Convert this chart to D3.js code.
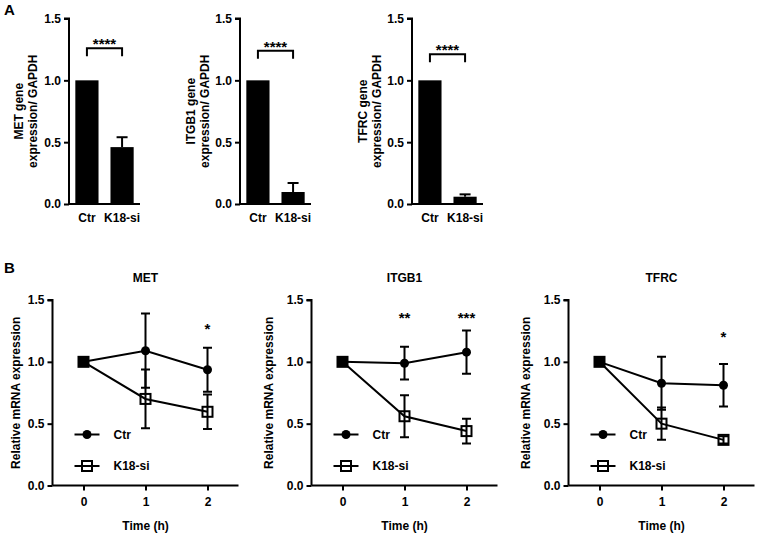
<!DOCTYPE html>
<html><head><meta charset="utf-8">
<script src="https://cdn.jsdelivr.net/npm/d3@7/dist/d3.min.js"></script>
<style>
body{margin:0;background:#fff;}
svg text{font-family:"Liberation Sans",Arial,sans-serif;font-weight:bold;fill:#000;}
</style></head><body>
<svg id="c" width="758" height="536"></svg>
<script>
// ---------- data ----------
const genes = ["MET", "ITGB1", "TFRC"];
const groups = ["Ctr", "K18-si"];
const barCtr = [1.0, 1.0, 1.0];
const barK18 = [0.46, 0.097, 0.059];
const barK18Err = [0.08, 0.073, 0.019];
const barSig = ["****", "****", "****"];
const barSigLevel = [1.26, 1.24, 1.21];
const yTicks = [0, 0.5, 1.0, 1.5];

const times = [0, 1, 2];
const ctrMean = [[1.0, 1.09, 0.936], [1.0, 0.989, 1.078], [1.0, 0.827, 0.811]];
const ctrSD   = [[0, 0.30, 0.178],   [0, 0.132, 0.175],  [0, 0.215, 0.172]];
const k18Mean = [[1.0, 0.70, 0.596], [1.0, 0.56, 0.44],  [1.0, 0.50, 0.369]];
const k18SD   = [[0, 0.237, 0.14],   [0, 0.17, 0.10],    [0, 0.13, 0.03]];
const timeSig = [["", "", "*"], ["", "**", "***"], ["", "", "*"]];
const timeSigLevel = [1.28, 1.37, 1.22];

// ---------- layout ----------
const svg = d3.select("#c");
const fmt = d3.format(".1f");
const SW = 2;
const FS = 12;

svg.append("text").attr("x", 4).attr("y", 15).attr("font-size", 15).text("A");
svg.append("text").attr("x", 4).attr("y", 273).attr("font-size", 15).text("B");

// Panel A
const aX0 = [69, 240, 412], aW = 71, aTop = 18.5, aBot = 204;
const aLabOff = [46, 45, 45];
genes.forEach((g, i) => {
  const gEl = svg.append("g");
  const y = d3.scaleLinear().domain([0, 1.5]).range([aBot, aTop]);
  const x = d3.scaleBand().domain(groups).range([aX0[i], aX0[i] + aW]).paddingInner(0.34).paddingOuter(0.18);
  const vals = [barCtr[i], barK18[i]];
  gEl.selectAll("rect.bar").data(groups).join("rect")
    .attr("x", d => x(d)).attr("width", x.bandwidth())
    .attr("y", (d, j) => y(vals[j])).attr("height", (d, j) => aBot - y(vals[j]))
    .attr("fill", "#000");
  const cx = x("K18-si") + x.bandwidth() / 2;
  const eTop = y(barK18[i] + barK18Err[i]);
  gEl.append("line").attr("x1", cx).attr("x2", cx).attr("y1", y(barK18[i])).attr("y2", eTop).attr("stroke", "#000").attr("stroke-width", SW);
  gEl.append("line").attr("x1", cx - 5.5).attr("x2", cx + 5.5).attr("y1", eTop).attr("y2", eTop).attr("stroke", "#000").attr("stroke-width", SW);
  const yAx = gEl.append("g").attr("transform", `translate(${aX0[i]},0)`)
    .call(d3.axisLeft(y).tickValues(yTicks).tickFormat(fmt).tickSize(5).tickPadding(3));
  const xAx = gEl.append("g").attr("transform", `translate(0,${aBot})`)
    .call(d3.axisBottom(x).tickSize(0).tickPadding(9));
  [yAx, xAx].forEach(a => {
    a.select(".domain").attr("stroke-width", SW).attr("stroke", "#000");
    a.selectAll(".tick line").attr("stroke-width", SW).attr("stroke", "#000");
    a.selectAll("text").attr("font-size", FS).attr("font-family", null);
  });
  yAx.select(".domain").attr("d", `M-5,${aTop}H0V${aBot}`);
  xAx.select(".domain").attr("d", `M${aX0[i]},0H${aX0[i] + aW}`);
  const lab = gEl.append("text").attr("transform", `translate(${aX0[i] - aLabOff[i]},${(aTop + aBot) / 2}) rotate(-90)`)
    .attr("text-anchor", "middle").attr("font-size", FS);
  lab.append("tspan").attr("x", 0).attr("dy", 0).text(g + " gene");
  lab.append("tspan").attr("x", 0).attr("dy", 14).text("expression/ GAPDH");
  const bx1 = x("Ctr") + x.bandwidth() / 2, bx2 = cx, by = y(barSigLevel[i]);
  gEl.append("path").attr("d", `M${bx1},${by + 8}V${by}H${bx2}V${by + 8}`).attr("fill", "none").attr("stroke", "#000").attr("stroke-width", SW);
  gEl.append("text").attr("x", (bx1 + bx2) / 2).attr("y", by + 1).attr("text-anchor", "middle").attr("font-size", 15).text(barSig[i]);
});

// Panel B
const bX0 = [52.5, 311.5, 568.5], bW = 186, bTop = 300, bBot = 485.5;
const bLabOff = [37, 43, 43];
genes.forEach((g, i) => {
  const gEl = svg.append("g");
  const x = d3.scaleLinear().domain([-0.5, 2.5]).range([bX0[i], bX0[i] + bW]);
  const y = d3.scaleLinear().domain([0, 1.5]).range([bBot, bTop]);
  const ctr = times.map((t, j) => ({t, v: ctrMean[i][j], sd: ctrSD[i][j]}));
  const k18 = times.map((t, j) => ({t, v: k18Mean[i][j], sd: k18SD[i][j], same: k18Mean[i][j] === ctrMean[i][j]}));
  const line = d3.line().x(d => x(d.t)).y(d => y(d.v));
  [ctr, k18].forEach(s => gEl.append("path").attr("d", line(s)).attr("fill", "none").attr("stroke", "#000").attr("stroke-width", SW));
  [ctr, k18].forEach(s => {
    s.filter(d => d.sd > 0).forEach(d => {
      const px = x(d.t), t = y(d.v + d.sd), b = y(d.v - d.sd);
      gEl.append("path").attr("d", `M${px},${t}V${b}M${px - 4.5},${t}H${px + 4.5}M${px - 4.5},${b}H${px + 4.5}`)
        .attr("stroke", "#000").attr("stroke-width", SW).attr("fill", "none");
    });
  });
  gEl.selectAll("circle.m").data(ctr).join("circle").attr("cx", d => x(d.t)).attr("cy", d => y(d.v)).attr("r", 4.5).attr("fill", "#000");
  gEl.selectAll("rect.m").data(k18).join("rect")
    .attr("x", d => x(d.t) - 5).attr("y", d => y(d.v) - 5).attr("width", 10).attr("height", 10)
    .attr("fill", d => d.same ? "#000" : "none").attr("stroke", "#000").attr("stroke-width", SW);
  const yAx = gEl.append("g").attr("transform", `translate(${bX0[i]},0)`)
    .call(d3.axisLeft(y).tickValues(yTicks).tickFormat(fmt).tickSize(5).tickPadding(3));
  const xAx = gEl.append("g").attr("transform", `translate(0,${bBot})`)
    .call(d3.axisBottom(x).tickValues(times).tickFormat(d3.format("d")).tickSize(5).tickPadding(7));
  [yAx, xAx].forEach(a => {
    a.select(".domain").attr("stroke-width", SW).attr("stroke", "#000");
    a.selectAll(".tick line").attr("stroke-width", SW).attr("stroke", "#000");
    a.selectAll("text").attr("font-size", FS).attr("font-family", null);
  });
  yAx.select(".domain").attr("d", `M-5,${bTop}H0V${bBot}`);
  xAx.select(".domain").attr("d", `M${bX0[i]},0H${bX0[i] + bW}`);
  svg.append("text").attr("x", bX0[i] + bW / 2).attr("y", 282).attr("text-anchor", "middle").attr("font-size", FS).text(g);
  svg.append("text").attr("x", bX0[i] + bW / 2).attr("y", 530).attr("text-anchor", "middle").attr("font-size", FS).text("Time (h)");
  svg.append("text").attr("transform", `translate(${bX0[i] - bLabOff[i]},${(bTop + bBot) / 2}) rotate(-90)`)
    .attr("text-anchor", "middle").attr("dy", "0.35em").attr("font-size", FS).text("Relative mRNA expression");
  gEl.selectAll("text.sig").data(times).join("text").attr("class", "sig")
    .attr("x", d => x(d)).attr("y", y(timeSigLevel[i]) + 7).attr("text-anchor", "middle").attr("font-size", 15)
    .text(d => timeSig[i][d]);
  const lg = gEl.append("g");
  const lx = bX0[i] + 22, ly = [434.5, 466];
  groups.forEach((name, k) => {
    lg.append("line").attr("x1", lx).attr("x2", lx + 25).attr("y1", ly[k]).attr("y2", ly[k]).attr("stroke", "#000").attr("stroke-width", SW);
    if (k === 0) lg.append("circle").attr("cx", lx + 12.5).attr("cy", ly[k]).attr("r", 4.5).attr("fill", "#000");
    else lg.append("rect").attr("x", lx + 7.5).attr("y", ly[k] - 5).attr("width", 10).attr("height", 10).attr("fill", "none").attr("stroke", "#000").attr("stroke-width", SW);
    lg.append("text").attr("x", lx + 39).attr("y", ly[k]).attr("dy", "0.35em").attr("font-size", FS).text(name);
  });
});
</script></body></html>
